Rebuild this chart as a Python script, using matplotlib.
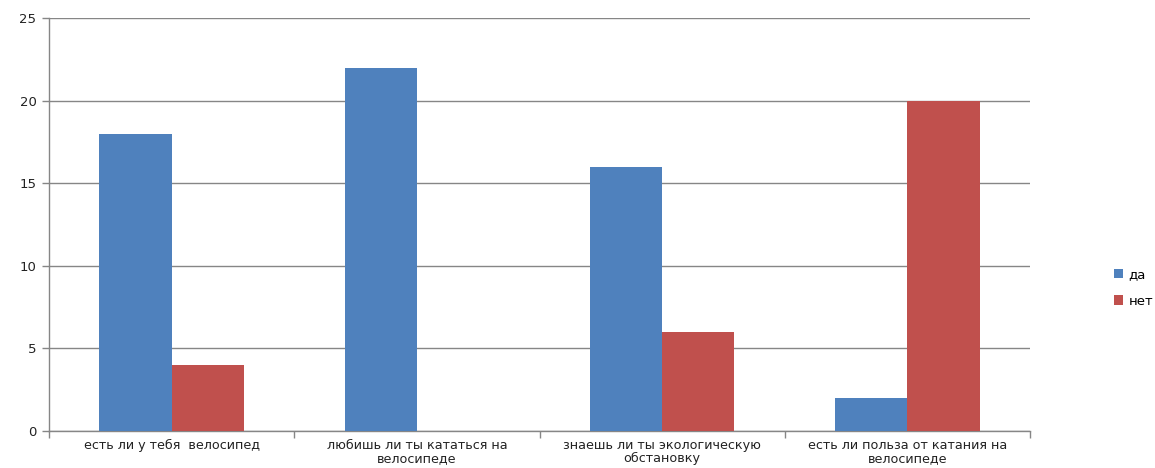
import numpy as np
import matplotlib.pyplot as plt

categories = ["есть ли у тебя  велосипед",
              "любишь ли ты кататься на\nвелосипеде",
              "знаешь ли ты экологическую\nобстановку",
              "есть ли польза от катания на\nвелосипеде"]
yes_vals = [18, 22, 16, 2]
no_vals = [4, 0, 6, 20]
series_names = ["да", "нет"]

blue = "#4F81BD"
red = "#C0504D"
axis_col = "#868686"

fig = plt.figure(figsize=(11.55, 4.68), dpi=100)
ax = fig.add_axes([49/1155, 1 - 431/468, 981/1155, 413/468])

x = np.arange(len(categories))
w = 0.295
ax.bar(x - w/2, yes_vals, w, color=blue, label=series_names[0], zorder=3)
ax.bar(x + w/2, no_vals, w, color=red, label=series_names[1], zorder=3)

ax.set_xlim(-0.5, len(categories) - 0.5)
ax.set_ylim(0, 25)
ax.set_yticks(range(0, 26, 5))
ax.yaxis.grid(True, color=axis_col, linewidth=1, zorder=0)

# category labels centred, ticks at the category boundaries
ax.set_xticks(x)
ax.set_xticklabels(categories, fontsize=9.2, color="#222222", linespacing=1.0)
ax.set_xticks(np.arange(-0.5, len(categories)), minor=True)
ax.tick_params(axis="x", which="major", length=0, pad=6)
ax.tick_params(axis="x", which="minor", length=5, color=axis_col, width=1)
ax.tick_params(axis="y", length=5, color=axis_col, width=1, labelsize=9.5,
               labelcolor="#222222", pad=4)

for s in ["top", "right"]:
    ax.spines[s].set_visible(False)
for s in ["left", "bottom"]:
    ax.spines[s].set_color(axis_col)
    ax.spines[s].set_linewidth(1)

fig.legend(loc="center left", bbox_to_anchor=(1102/1155, 1 - 288/468),
           frameon=False, fontsize=9.5, handlelength=0.7, handleheight=0.7,
           handletextpad=0.4, labelspacing=1.0)

fig.savefig("out.png", dpi=100)
